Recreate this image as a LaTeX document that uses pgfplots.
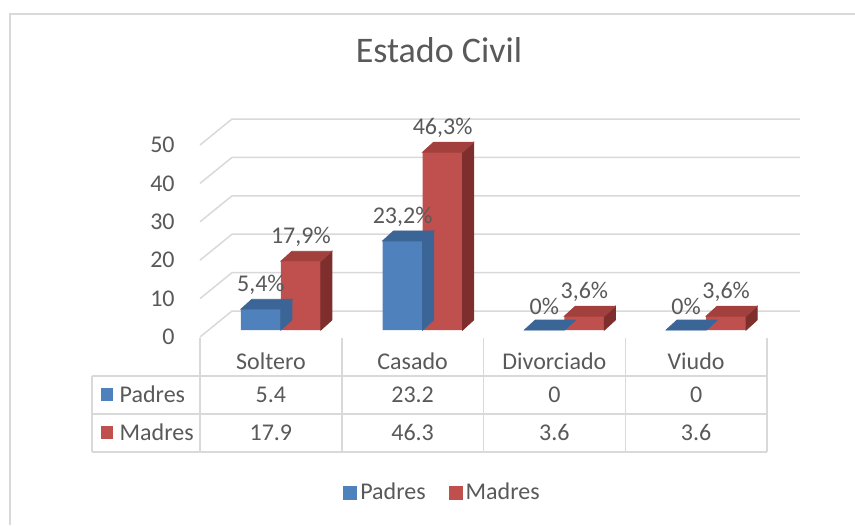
\documentclass[border=0pt]{standalone}
\usepackage{fontspec}
\setmainfont{Carlito}
\usepackage{pgfplots}
\pgfplotsset{compat=1.18}

\definecolor{txt}{HTML}{595959}
\definecolor{gridc}{HTML}{D9D9D9}
\definecolor{padf}{HTML}{4F81BD}
\definecolor{padt}{HTML}{3C6597}
\definecolor{madf}{HTML}{C0504D}
\definecolor{madt}{HTML}{A2403D}
\definecolor{mads}{HTML}{7E2F2D}

\pgfdeclareplotmark{nothing}{}

% 3D top and side faces of each bar, drawn at the data point
\pgfplotsset{
  sqlegend/.style={legend image code/.code={\draw[##1,draw=none] (0pt,-3.5pt) rectangle (7pt,3.5pt);}},
  prism/.style n args={4}{forget plot, scatter, only marks, mark=nothing,
    visualization depends on={y \as \hv},
    scatter/@pre marker code/.code={
      \fill[#4] (#2pt,0pt) -- ({#2pt+5.5pt},5pt) -- ({#2pt+5.5pt},{5pt-\hv*1.92pt}) -- (#2pt,{-\hv*1.92pt}) -- cycle;
      \fill[#3] (#1pt,0pt) -- (#2pt,0pt) -- ({#2pt+5.5pt},5pt) -- ({#1pt+5.5pt},5pt) -- cycle;
    },
    scatter/@post marker code/.code={}},
  barlbl/.style={nodes near coords={\pgfmathprintnumber[fixed,precision=1,use comma]{\pgfplotspointmeta}\%},
    every node near coord/.append style={text=txt, anchor=center, yshift=12pt, xshift=#1}},
}

\begin{document}
\begin{tikzpicture}[font=\fontsize{12}{14}\selectfont,
  cell/.style={text=txt, inner sep=0pt, text height=7.7pt, text depth=0pt}]
\path[use as bounding box] (-100pt,-97.5pt) rectangle (327.5pt,165pt);
\draw[gridc, line width=0.75pt] (-95pt,-97.5pt) -- (-95pt,158pt) -- (327.5pt,158pt);

\begin{axis}[
  at={(0,0)}, anchor=south west,
  scale only axis, width=283.5pt, height=96pt,
  xmin=-0.5, xmax=3.5, ymin=0, ymax=50,
  clip=false,
  axis line style={draw=none}, tick style={draw=none},
  xtick={0,1,2,3}, xticklabels={Soltero,Casado,Divorciado,Viudo},
  xticklabel style={cell, anchor=center, yshift=-16pt},
  ytick={0,10,...,50},
  /pgf/number format/assume math mode=true,
  yticklabel style={cell, anchor=east, xshift=-12.5pt, yshift=-3.5pt},
  title={Estado Civil},
  title style={at={(0.4215,1.39)}, anchor=center, text=txt, inner sep=0pt,
    font=\fontsize{18}{21}\selectfont, text height=11.6pt, text depth=0pt},
  legend style={at={(0.4286,-0.849)}, anchor=center, draw=none, legend columns=2,
    text=txt, /tikz/every even column/.append style={column sep=10pt},
    nodes={inner sep=1.5pt}},
]
\pgfplotsinvokeforeach{0,10,...,50}{
  \draw[gridc, line width=0.75pt] ([yshift=-3.5pt]axis cs:-0.5,#1) -- ++(16pt,13pt) -- ++(284pt,0pt);
}
\addplot[ybar, bar width=20pt, bar shift=-5pt, fill=padf, draw=none, sqlegend, barlbl=-5pt]
  coordinates {(0,5.4) (1,23.2) (2,0) (3,0)};
\addlegendentry{Padres}
\addplot[prism={-15}{5}{padt}{padt}]
  coordinates {(0,5.4) (1,23.2) (2,0) (3,0)};
\addplot[ybar, bar width=20pt, bar shift=15pt, fill=madf, draw=none, sqlegend, barlbl=15pt]
  coordinates {(0,17.9) (1,46.3) (2,3.6) (3,3.6)};
\addlegendentry{Madres}
\addplot[prism={5}{25}{madt}{mads}]
  coordinates {(0,17.9) (1,46.3) (2,3.6) (3,3.6)};
\end{axis}

% data table below the chart
\draw[gridc, line width=0.75pt]
  (-54pt,-23pt) -- (283.5pt,-23pt)
  (-54pt,-42pt) -- (283.5pt,-42pt)
  (-54pt,-61pt) -- (283.5pt,-61pt)
  (-54pt,-23pt) -- (-54pt,-61pt);
\foreach \x in {0,70.875,141.75,212.625,283.5}
  \draw[gridc, line width=0.75pt] (\x pt,-4pt) -- (\x pt,-61pt);
\fill[padf] (-49.65pt,-35.4pt) rectangle ++(6.3pt,6.3pt);
\node[cell, anchor=west] at (-40.35pt,-32.25pt) {Padres};
\fill[madf] (-49.65pt,-54.4pt) rectangle ++(6.3pt,6.3pt);
\node[cell, anchor=west] at (-40.35pt,-51.25pt) {Madres};
\foreach \x/\p/\m in {35.44/5.4/17.9, 106.31/23.2/46.3, 177.19/0/3.6, 248.06/0/3.6} {
  \node[cell] at (\x pt,-32.25pt) {\p};
  \node[cell] at (\x pt,-51.25pt) {\m};
}
\end{tikzpicture}
\end{document}
